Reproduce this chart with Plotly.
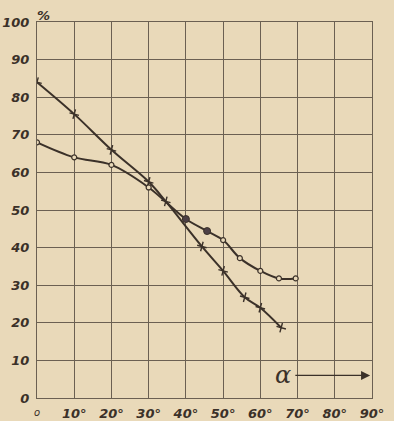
import plotly.graph_objects as go

# Angle of incidence (degrees) and measured percentage for the two series
alpha_cross = [0, 10, 20, 30, 34.6, 44.3, 50, 55.8, 60, 65.6]
pct_cross = [84, 75.5, 66, 57.5, 52.3, 40.3, 33.8, 26.8, 24, 18.7]

alpha_circle = [0, 10, 20, 30, 40, 45.7, 50, 54.5, 60, 65, 69.5]
pct_circle = [68, 64, 62, 56, 47.6, 44.4, 42.0, 37.2, 33.8, 31.8, 31.8]

# the two points marked with solid dots on the circle curve
alpha_solid = [40, 45.7]
pct_solid = [47.6, 44.4]

x_ticks = [0, 10, 20, 30, 40, 50, 60, 70, 80, 90]
x_ticktext = ["", "10°", "20°", "30°", "40°", "50°", "60°", "70°", "80°", "90°"]
y_ticks = [0, 10, 20, 30, 40, 50, 60, 70, 80, 90, 100]
y_ticktext = ["0", "10", "20", "30", "40", "50", "60", "70", "80", "90", "100"]

paper = "#e9d9b9"
ink = "#3b3129"
grid = "#6b6052"
hand = dict(family="DejaVu Sans", size=13, color=ink, style="italic", weight=600)

fig = go.Figure()

fig.add_trace(go.Scatter(
    x=alpha_cross, y=pct_cross, mode="lines+markers",
    line=dict(color=ink, width=2, shape="spline", smoothing=1.0),
    marker=dict(symbol="cross-thin", size=7, angle=15, line=dict(color=ink, width=1.4)),
    showlegend=False, hoverinfo="skip",
))
fig.add_trace(go.Scatter(
    x=alpha_circle, y=pct_circle, mode="lines+markers",
    line=dict(color=ink, width=2, shape="spline", smoothing=1.0),
    marker=dict(symbol="circle", size=5, color=paper, line=dict(color=ink, width=1.2)),
    showlegend=False, hoverinfo="skip",
))
fig.add_trace(go.Scatter(
    x=alpha_solid, y=pct_solid, mode="markers",
    marker=dict(symbol="circle", size=7, color="#4d4046", line=dict(color=ink, width=1)),
    showlegend=False, hoverinfo="skip",
))

fig.update_xaxes(
    range=[0, 90], tickvals=x_ticks, ticktext=x_ticktext,
    showgrid=True, gridcolor=grid, gridwidth=1,
    showline=True, linecolor=grid, linewidth=1.2, mirror=True,
    zeroline=False, ticks="", tickfont=hand, ticklabelstandoff=3,
    automargin=False,
)
fig.update_yaxes(
    range=[0, 100], tickvals=y_ticks, ticktext=y_ticktext,
    showgrid=True, gridcolor=grid, gridwidth=1,
    showline=True, linecolor=grid, linewidth=1.2, mirror=True,
    zeroline=False, ticks="", tickfont=hand, ticklabelstandoff=4,
    automargin=False,
)

annotations = [
    dict(x=0, y=0, xref="x", yref="y", text="o", showarrow=False,
         xshift=0, yshift=-14, font=dict(family="DejaVu Sans", size=10, color=ink, style="italic")),
    dict(x=0, y=100, xref="x", yref="y", text="%", showarrow=False,
         xshift=6, yshift=7, font=dict(family="DejaVu Sans", size=13, color=ink, style="italic", weight=600)),
    dict(x=66, y=6, xref="x", yref="y", text="α", showarrow=False,
         font=dict(family="DejaVu Serif", size=24, color=ink, style="italic")),
    dict(x=89.5, y=6, ax=69, ay=6, xref="x", yref="y", axref="x", ayref="y",
         text="", showarrow=True, arrowhead=2, arrowsize=1.4, arrowwidth=1.3,
         arrowcolor=ink),
]

fig.update_layout(
    width=394, height=421,
    margin=dict(l=37, r=22, t=22, b=23),
    paper_bgcolor=paper, plot_bgcolor=paper,
    annotations=annotations,
)

fig.write_html("out.html")
